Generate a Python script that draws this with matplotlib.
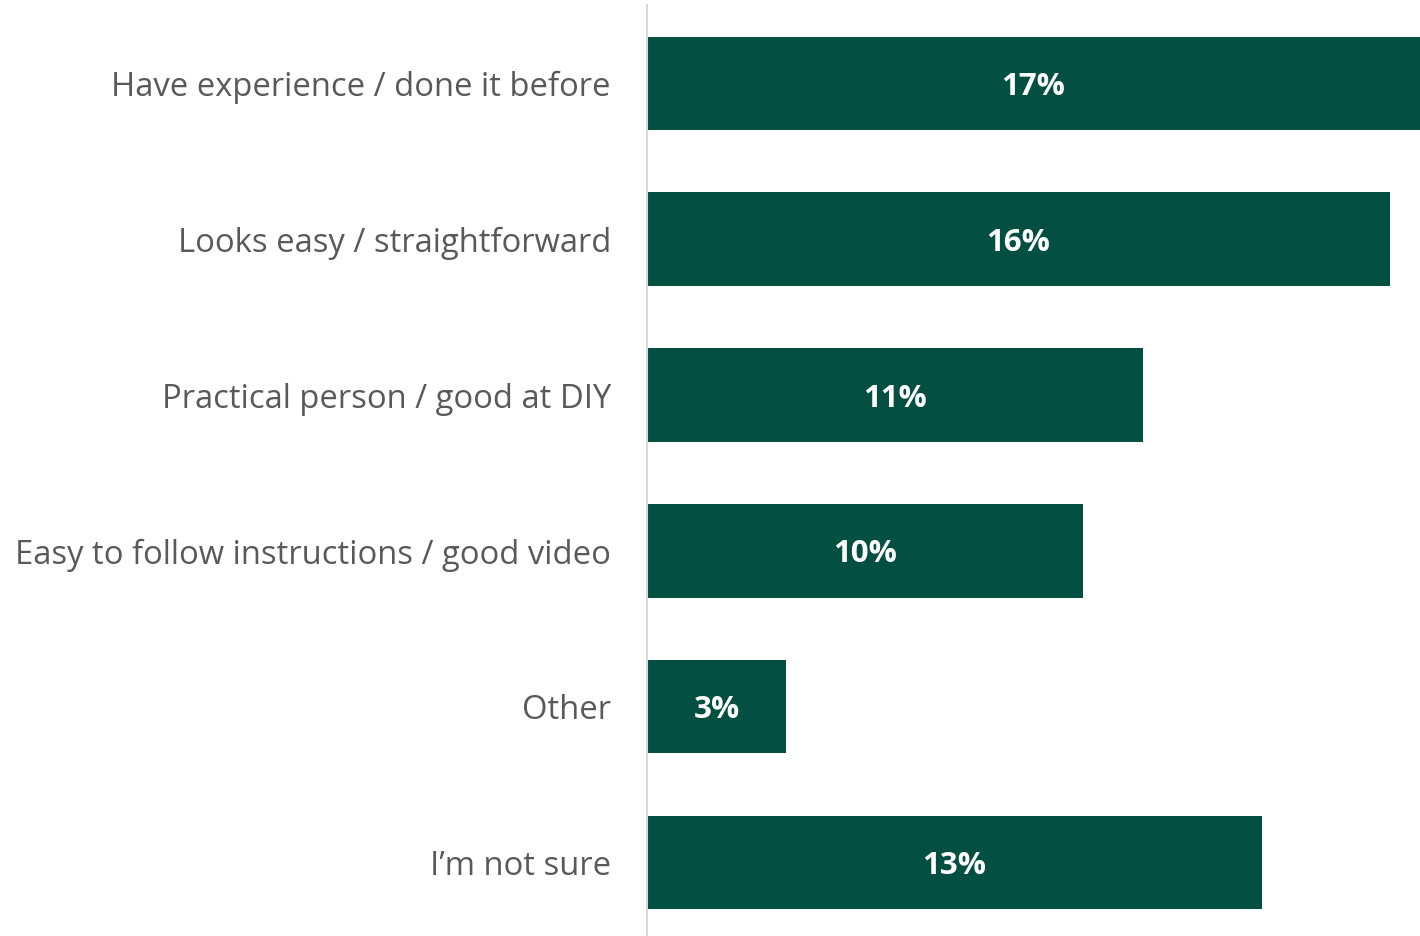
import matplotlib
matplotlib.use('Agg')
import matplotlib.pyplot as plt

categories = ["Have experience / done it before", "Looks easy / straightforward",
              "Practical person / good at DIY", "Easy to follow instructions / good video",
              "Other", "I\u2019m not sure"]
values = [17.0, 16.34, 10.91, 9.59, 3.06, 13.53]
labels = ["17%", "16%", "11%", "10%", "3%", "13%"]

plt.rcParams['font.family'] = ['Open Sans', 'DejaVu Sans']

fig = plt.figure(figsize=(14.2, 9.36), dpi=100)
ax = fig.add_axes([647/1420, 0, 1 - 647/1420, (936 - 5.5)/936])

bar_color = '#034F42'
ypos = list(range(len(categories)))
ax.barh(ypos, values, height=0.6, color=bar_color)
for y, v, lab in zip(ypos, values, labels):
    ax.text(min(v, 17.0)/2, y, lab, ha='center', va='center_baseline', color='white',
            fontsize=22.5, fontweight='bold')

ax.set_xlim(0, 17.0)
ax.set_ylim(5 + (936 - 862.5)/156, -0.5)
ax.set_yticks(ypos)
ax.set_yticklabels(categories, fontsize=23.6, color='#595959')
ax.tick_params(axis='y', length=0, pad=26)
ax.set_xticks([])
for s in ['top', 'right', 'bottom']:
    ax.spines[s].set_visible(False)
ax.spines['left'].set_color('#D9D9D9')
ax.spines['left'].set_linewidth(1.5)

fig.savefig('out.png', dpi=100)
